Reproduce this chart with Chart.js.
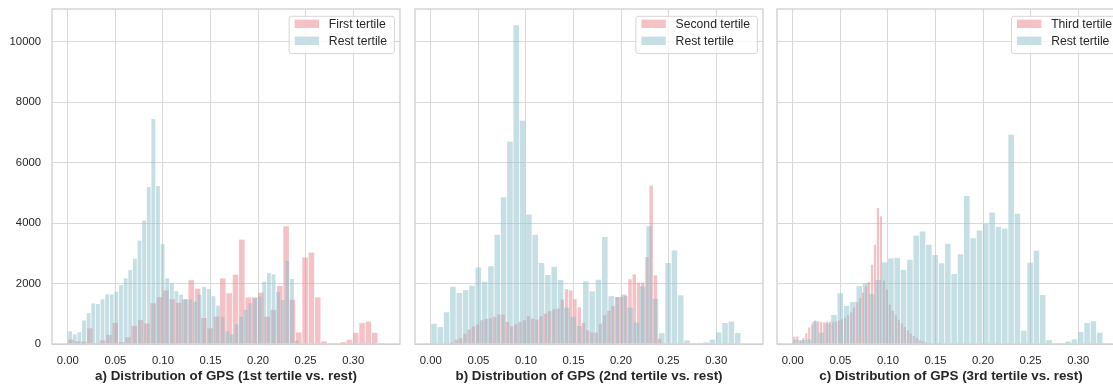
<!DOCTYPE html>
<html><head><meta charset="utf-8">
<script src="https://cdn.jsdelivr.net/npm/chart.js@4.4.0/dist/chart.umd.min.js"></script>
<style>
html,body{margin:0;padding:0;background:#fff;overflow:hidden;width:1113px;height:384px;}
.p{position:absolute;top:0;}
canvas{display:block;}
</style></head><body>
<div class="p" style="left:0px"><canvas id="ca" width="402" height="384"></canvas></div>
<div class="p" style="left:405px"><canvas id="cb" width="360" height="384"></canvas></div>
<div class="p" style="left:767px"><canvas id="cc" width="360" height="384"></canvas></div>
<script>
// ---- axis ticks ----
const X_TICKS = [0.00, 0.05, 0.10, 0.15, 0.20, 0.25, 0.30];
const Y_TICKS = [0, 2000, 4000, 6000, 8000, 10000];
const X_MIN = -0.01663, X_MAX = 0.34923, Y_MAX = 11075;

// ---- labels ----
const TITLES = [
  "a) Distribution of GPS (1st tertile vs. rest)",
  "b) Distribution of GPS (2nd tertile vs. rest)",
  "c) Distribution of GPS (3rd tertile vs. rest)"
];
const TERTILE_LABELS = ["First tertile", "Second tertile", "Third tertile"];
const REST_LABEL = "Rest tertile";

// ---- histogram bins (data units) ----
const FIRST_BIN_START = 0,       FIRST_BIN_WIDTH = 0.006652;
const REST_A_BIN_START = 0,      REST_A_BIN_WIDTH = 0.00486;
const SECOND_BIN_START = 0.0203, SECOND_BIN_WIDTH = 0.00445;
const REST_B_BIN_START = 0,      REST_B_BIN_WIDTH = 0.006652;
const THIRD_BIN_START = 0,       THIRD_BIN_WIDTH = 0.00314;
const REST_C_BIN_START = 0,      REST_C_BIN_WIDTH = 0.006652;

// ---- counts ----
const FIRST_COUNTS = [150, 90, 80, 520, 30, 120, 300, 700, 60, 220,
  600, 790, 680, 1350, 1550, 1770, 1480, 1360, 1470, 2110,
  1830, 860, 520, 910, 2170, 1680, 2290, 3450, 1540, 1540,
  1700, 900, 1130, 1920, 3890, 1460, 380, 2860, 3020, 1540,
  90, 5, 10, 60, 140, 370, 690, 740, 370, 10];
const REST_A_COUNTS = [420, 320, 390, 780, 1020, 1340, 1320, 1480, 1640, 1640,
  1730, 1950, 2170, 2440, 2820, 3420, 4080, 5190, 7440, 5220,
  3300, 2170, 2020, 1745, 1630, 1490, 1470, 1400, 1630, 1890,
  1820, 1580, 1270, 900, 420, 320, 650, 900, 1130, 1350,
  1520, 1560, 2060, 2350, 2300, 1720, 1450, 2750, 2150, 110];
const SECOND_COUNTS = [55, 140, 190, 340, 475, 585, 640, 785, 830, 850,
  895, 980, 970, 730, 585, 650, 730, 785, 915, 840,
  805, 915, 1000, 1090, 1140, 1170, 1470, 1810, 1770, 1480,
  1215, 700, 450, 380, 380, 670, 950, 1100, 1250, 1550,
  1560, 1590, 2140, 2300, 2030, 2030, 2875, 5240, 2270, 175];
const REST_B_COUNTS = [670, 560, 1050, 1890, 1690, 1780, 1930, 2530, 2060, 2570,
  3610, 4850, 6690, 10540, 7380, 4280, 3610, 2680, 2280, 2550,
  2120, 1200, 900, 600, 2070, 1740, 2125, 3535, 1585, 1550,
  1640, 1200, 700, 1900, 3890, 1500, 360, 2675, 3095, 1610,
  120, 10, 5, 55, 145, 385, 695, 740, 365, 15];
const THIRD_COUNTS = [240, 250, 120, 200, 350, 550, 650, 780, 750, 730,
  720, 740, 740, 720, 740, 780, 820, 880, 950, 1050,
  1200, 1380, 1520, 1700, 1900, 2050, 2620, 3280, 4500, 4220,
  2100, 1800, 1300, 1100, 950, 800, 680, 560, 450, 350,
  270, 200, 140, 90, 55, 30, 18, 10, 5, 3];
const REST_C_COUNTS = [140, 130, 150, 740, 375, 685, 960, 1680, 1260, 1390,
  1910, 2010, 1650, 2120, 2700, 2830, 2850, 2450, 2785, 3580,
  3720, 3280, 2940, 2670, 3310, 2315, 2965, 4895, 3495, 3750,
  3970, 4345, 3870, 3815, 6915, 4310, 440, 2690, 3085, 1620,
  130, 10, 20, 80, 155, 400, 695, 750, 375, 10];

// ---- styles ----
const RED = 'rgba(233,131,141,0.5)';
const BLUE = 'rgba(139,191,201,0.5)';
const GRID = '#d8d8d8';
const FRAME = '#cccccc';
const TEXT = '#262626';
const FONT = "'Liberation Sans', Arial, sans-serif";

function toPoints(counts, start, width) {
  return counts.map((c, k) => ({ x: start + (k + 0.5) * width, y: c }));
}

const framePlugin = {
  id: 'frame',
  afterDatasetsDraw(chart) {
    const { ctx, chartArea: a } = chart;
    ctx.save();
    ctx.strokeStyle = FRAME;
    ctx.lineWidth = 1.25;
    ctx.strokeRect(a.left, a.top, a.right - a.left, a.bottom - a.top);
    ctx.restore();
  }
};

const boxLegendPlugin = {
  id: 'boxLegend',
  afterDraw(chart) {
    const { ctx, chartArea: a } = chart;
    const fs = 12.2;
    const items = chart.data.datasets.map(d => ({ label: d.label, color: d.backgroundColor }));
    ctx.save();
    ctx.font = fs + 'px ' + FONT;
    const tw = Math.max(...items.map(i => ctx.measureText(i.label).width));
    const w = 40.2 + tw + 6.8, h = 37.3;
    const x = a.right - 6.1 - w, y = a.top + 6.8;
    ctx.beginPath();
    ctx.roundRect(x + 0.5, y + 0.5, w, h, 2.5);
    ctx.fillStyle = 'rgba(255,255,255,0.8)';
    ctx.fill();
    ctx.strokeStyle = '#d6d6d6';
    ctx.lineWidth = 1;
    ctx.stroke();
    items.forEach((it, i) => {
      const cy = y + 8 + i * 17;
      ctx.fillStyle = '#ffffff';
      ctx.fillRect(x + 6, cy - 4.2, 24.4, 8.4);
      ctx.fillStyle = it.color;
      ctx.fillRect(x + 6, cy - 4.2, 24.4, 8.4);
      ctx.fillStyle = TEXT;
      ctx.textBaseline = 'middle';
      ctx.textAlign = 'left';
      ctx.fillText(it.label, x + 40.2, cy + 0.5);
    });
    ctx.restore();
  }
};

function makePanel(id, cfg) {
  return new Chart(document.getElementById(id), {
    type: 'bar',
    data: {
      datasets: [
        { label: cfg.redLabel, data: cfg.redData, xAxisID: 'xr', yAxisID: 'y', grouped: false,
          backgroundColor: RED, order: 1, barPercentage: 1, categoryPercentage: cfg.redPct, borderWidth: 0 },
        { label: REST_LABEL, data: cfg.blueData, xAxisID: 'x', yAxisID: 'y', grouped: false,
          backgroundColor: BLUE, order: 0, barPercentage: 1, categoryPercentage: cfg.bluePct, borderWidth: 0 }
      ]
    },
    options: {
      responsive: false, animation: false, devicePixelRatio: 1,
      layout: { padding: { left: cfg.padLeft, right: 2, top: 9, bottom: 0 } },
      plugins: { legend: { display: false }, tooltip: { enabled: false } },
      events: [],
      scales: {
        x: {
          type: 'linear', position: 'bottom', min: X_MIN, max: X_MAX, offset: false,
          afterBuildTicks: s => { s.ticks = X_TICKS.map(v => ({ value: v })); },
          afterFit: s => { s.height = 40; s.paddingLeft = 0; s.paddingRight = 0; },
          grid: { color: GRID, lineWidth: 1, drawTicks: false, offset: false },
          border: { display: false },
          ticks: { padding: 10.5, color: TEXT, font: { family: FONT, size: 11.3 },
                   maxRotation: 0, autoSkip: false, callback: v => Number(v).toFixed(2) },
          title: { display: true, text: cfg.title, color: TEXT,
                   font: { family: FONT, size: 13.4, weight: 'bold' }, padding: { top: 0, bottom: 0 } }
        },
        xr: {
          type: 'linear', position: 'bottom', display: false, min: X_MIN, max: X_MAX, offset: false,
          afterBuildTicks: s => { s.ticks = X_TICKS.map(v => ({ value: v })); },
          grid: { offset: false }
        },
        y: {
          type: 'linear', position: 'left', min: 0, max: Y_MAX,
          afterBuildTicks: s => { s.ticks = Y_TICKS.map(v => ({ value: v })); },
          afterFit: s => { s.width = cfg.yWidth; s.paddingTop = 0; s.paddingBottom = 0; },
          grid: { color: GRID, lineWidth: 1, drawTicks: false },
          border: { display: false },
          ticks: { display: cfg.showY, padding: 11, color: TEXT, font: { family: FONT, size: 11.3 },
                   callback: v => String(v) }
        }
      }
    },
    plugins: [framePlugin, boxLegendPlugin]
  });
}

makePanel('ca', {
  title: TITLES[0], redLabel: TERTILE_LABELS[0],
  redData: toPoints(FIRST_COUNTS, FIRST_BIN_START, FIRST_BIN_WIDTH),
  blueData: toPoints(REST_A_COUNTS, REST_A_BIN_START, REST_A_BIN_WIDTH),
  redPct: 0.875, bluePct: 0.83, padLeft: 0, yWidth: 52, showY: true
});
makePanel('cb', {
  title: TITLES[1], redLabel: TERTILE_LABELS[1],
  redData: toPoints(SECOND_COUNTS, SECOND_BIN_START, SECOND_BIN_WIDTH),
  blueData: toPoints(REST_B_COUNTS, REST_B_BIN_START, REST_B_BIN_WIDTH),
  redPct: 0.81, bluePct: 0.875, padLeft: 10, yWidth: 0, showY: false
});
makePanel('cc', {
  title: TITLES[2], redLabel: TERTILE_LABELS[2],
  redData: toPoints(THIRD_COUNTS, THIRD_BIN_START, THIRD_BIN_WIDTH),
  blueData: toPoints(REST_C_COUNTS, REST_C_BIN_START, REST_C_BIN_WIDTH),
  redPct: 0.73, bluePct: 0.875, padLeft: 10, yWidth: 0, showY: false
});
</script>
</body></html>
